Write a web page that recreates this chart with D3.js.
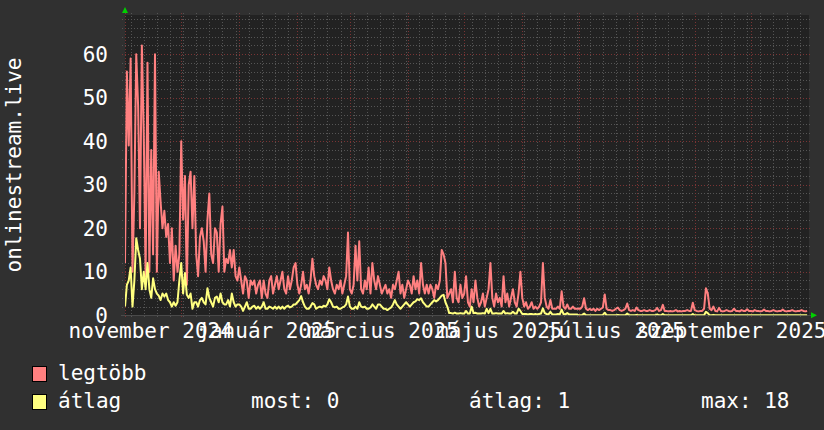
<!DOCTYPE html>
<html><head><meta charset="utf-8">
<script src="https://cdn.jsdelivr.net/npm/d3@7"></script>
<style>
html,body{margin:0;padding:0;background:#303030;}
svg{display:block;}
text{font-family:"DejaVu Sans Mono",monospace;fill:#ffffff;}
</style>
</head><body>
<svg id="chart" width="824" height="430"></svg>
<script>
// ---- data ----
const startDate = "2024-11-01";
const endDate = "2025-11-01";
const yTitle = "onlinestream.live";
// daily maximum ("legtöbb")
const legtobb = [
  // nov
  12,56,39,59,10,28,60,48,20,62,42,9,58,10,38,14,60,10,33,26,20,24,18,21,12,20,8,16,10,14,
  // dec
  40,22,32,7,30,33,20,32,14,9,18,20,17,10,22,28,14,12,20,19,10,21,25,10,13,12,15,11,15,9,8,
  // jan
  11,8,5,9,8,4,8,7,8,5,7,8,4,8,5,4,8,9,5,7,9,6,8,10,6,5,9,6,8,11,12,
  // feb
  7,5,7,10,6,7,5,8,13,9,7,6,8,7,9,8,6,11,8,6,5,7,6,8,5,7,9,19,
  // mar
  6,5,7,16,8,17,6,5,8,6,11,5,12,8,6,9,7,5,6,7,5,6,4,7,6,8,10,5,7,4,6,
  // apr
  8,7,5,9,6,8,5,12,7,5,7,5,7,6,4,7,6,8,15,14,12,4,5,6,3,10,4,3,7,4,
  // may
  5,9,3,2,6,3,8,4,2,3,5,2,4,6,12,4,2,5,3,4,2,9,3,5,2,4,6,3,2,5,10,
  // jun
  4,2,3,1.5,2,3,1.5,2,1.5,2,3,12,4,2,1.5,3.5,1.5,1.5,1.5,2,1.5,5.5,2,1.5,2.5,1.5,1.5,2,1.5,1.5,
  // jul
  1.5,1.5,2,3.9,1.5,1.2,1.5,1.2,1.5,1,1.5,1.2,1.5,1.8,4.8,1.5,1.2,1.2,1,1.2,1.5,1.8,1.2,1,1.2,1.5,2.7,1.2,1,1.2,1,
  // aug
  1.8,1.2,1,1,1.2,1,1,1.2,1,1,1.2,1.7,1,1.2,2.4,1,1,0.9,1,0.9,1,1.2,0.9,1,0.9,1,1,1.2,1,1,2.9,
  // sep
  1.2,1,0.9,1,1,1.5,6.2,5,1.5,1.2,2,1,0.9,1.7,1,0.9,1,1.2,1,0.9,1,1.5,1,1,0.9,1.2,1,1,1.4,1,
  // oct
  1,0.9,1.2,1,1,0.9,1,1.3,1,1,0.9,1,1.2,1,0.9,1,1,1.3,1,0.9,1,1,1.2,1,0.9,1,1,1.2,1,0.9,1
];
// daily average ("átlag")
const atlag = [
  // nov
  2,7,8,11,2,8,17.7,15,13,6,10,6,12,6,4,8.5,6,5,4.5,3.5,5,4.3,5,3.5,3,2,3,2.2,3,8,
  // dec
  12,5,9.7,4.7,4,5,1.5,3,3,2,3.5,4,3,2.5,6.2,4,3,2,4,4.3,3,5,3,2.5,2.5,3.5,2,5,3,2,2.5,
  // jan
  2.5,2,1,2,3,1.5,1.5,2,2.2,1.5,2,1.5,2,3,1.5,1.5,2,1.8,1.5,2,1.5,2,1.5,2,1.5,2,2.2,1.8,2,2.5,2.5,
  // feb
  3,3.5,4.4,3,2,1.5,1.5,2,2.8,2.5,1.5,1.8,2,1.8,2.2,2,2.5,3.7,3,2,1.8,2,1.5,1.5,1.8,2,2.5,4.3,
  // mar
  2,1.5,1.5,2,1.5,3,2,1.8,2,1.5,1.5,1.8,2.5,2,1.5,2.5,2.5,2,1.5,1.5,1.2,1.5,1.8,2.5,3.5,2.5,2,1.5,2,2.5,3,
  // apr
  2.5,2,2.5,3,3.2,3.7,3.5,3.9,3,2.5,2,2,2.5,3,3.5,3.2,3.5,4,4.5,4.7,3,2,0.5,0.5,0.4,0.6,0.4,0.4,0.5,0.4,
  // may
  0.4,1,0.4,0.4,2,0.5,0.6,0.4,0.4,0.4,0.5,0.4,1.5,0.5,1.5,0.4,0.4,0.5,0.4,0.4,0.4,1,0.4,0.5,0.4,0.4,0.8,0.4,0.4,1.5,1,
  // jun
  0.3,0.3,0.3,0.2,0.3,0.3,0.2,0.3,0.2,0.3,0.4,1.6,0.5,0.3,0.2,0.8,0.2,0.2,0.2,0.3,0.2,1.3,0.3,0.2,0.5,0.2,0.2,0.2,0.2,0.2,
  // jul
  0,0,0.1,0.4,0,0,0,0,0,0,0,0,0,0.1,0.6,0,0,0,0,0,0,0.1,0,0,0,0,0.4,0,0,0,0,
  // aug
  0.1,0,0,0,0,0,0,0,0,0,0,0.2,0,0,0.3,0,0,0,0,0,0,0,0,0,0,0,0,0,0,0,0.3,
  // sep
  0,0,0,0,0,0,0.8,0.5,0,0,0.1,0,0,0,0,0,0,0,0,0,0,0,0,0,0,0,0,0,0,0,
  // oct
  0,0,0,0,0,0,0,0,0,0,0,0,0,0,0,0,0,0,0,0,0,0,0,0,0,0,0,0,0,0,0
];
const yTicks = [0,10,20,30,40,50,60];
const xLabels = ["november 2024","január 2025","március 2025","május 2025","július 2025","szeptember 2025"];
const xLabelDates = ["2024-11-14T17:00Z","2025-01-15T17:00Z","2025-03-18T17:00Z","2025-05-19T17:00Z","2025-07-20T17:00Z","2025-09-20T17:00Z"];
const seriesNames = ["legtöbb","átlag"];
const seriesColors = ["#ff8080","#ffff80"];
const statLabels = ["most: 0","átlag: 1","max: 18"];

// ---- drawing ----
const svg = d3.select("#chart");
const t0 = new Date(startDate + "T00:00:00Z"), t1 = new Date(endDate + "T00:00:00Z");
const x = d3.scaleUtc().domain([t0, t1]).range([125, 809]);
const y = d3.scaleLinear().domain([0, 69]).range([315.3, 15]);
const px = v => Math.round(v) + 0.5;

svg.append("rect").attr("width", 824).attr("height", 430).attr("fill", "#303030");
svg.append("rect").attr("x", 125).attr("y", 15).attr("width", 684).attr("height", 300).attr("fill", "#222222");

const grid = svg.append("g");
// minor horizontal
d3.range(2, 69, 2).filter(v => v % 10 !== 0).forEach(v => {
  grid.append("line").attr("x1", 122).attr("x2", 811).attr("y1", px(y(v))).attr("y2", px(y(v)))
    .attr("stroke", "#555555").attr("stroke-dasharray", "1,2");
});
// minor vertical (weekly)
d3.utcMonday.range(t0, t1).forEach(d => {
  grid.append("line").attr("x1", px(x(d))).attr("x2", px(x(d))).attr("y1", 13).attr("y2", 317)
    .attr("stroke", "#555555").attr("stroke-dasharray", "1,2");
});
// major horizontal
yTicks.filter(v => v > 0).forEach(v => {
  grid.append("line").attr("x1", 122).attr("x2", 811).attr("y1", px(y(v))).attr("y2", px(y(v)))
    .attr("stroke", "#7a3434").attr("stroke-dasharray", "1,2");
});
// major vertical (monthly)
d3.utcMonth.range(t0, t1).forEach(d => {
  grid.append("line").attr("x1", px(x(d))).attr("x2", px(x(d))).attr("y1", 13).attr("y2", 317)
    .attr("stroke", "#7a3434").attr("stroke-dasharray", "1,2");
});

// x axis line
svg.append("line").attr("x1", 121).attr("x2", 811).attr("y1", 315.5).attr("y2", 315.5).attr("stroke", "#4a4a4a");

// series
svg.append("clipPath").attr("id", "clip").append("rect").attr("x", 125).attr("y", 14).attr("width", 684).attr("height", 301.3);
const days = legtobb.map((_, i) => d3.utcDay.offset(t0, i));
const line = d3.line().x((d, i) => x(days[i])).y(d => y(d));
const plot = svg.append("g").attr("clip-path", "url(#clip)");
[legtobb, atlag].forEach((s, k) => {
  plot.append("path").attr("d", line(s)).attr("fill", "none")
    .attr("stroke", seriesColors[k]).attr("stroke-width", 2).attr("stroke-linejoin", "round");
});

// arrows
svg.append("path").attr("d", `M${x(t0)-3},13 L${x(t0)+3},13 L${x(t0)},7 Z`).attr("fill", "#00d000");
svg.append("path").attr("d", `M811,${y(0)-3} L811,${y(0)+3} L817,${y(0)} Z`).attr("fill", "#00d000");

// y labels
svg.append("g").selectAll("text").data(yTicks).join("text")
  .attr("x", 108).attr("y", d => y(d) + 7.5).attr("text-anchor", "end")
  .attr("font-size", 21).text(d => d);
// x labels
svg.append("g").selectAll("text").data(xLabels).join("text")
  .attr("x", (d, i) => x(new Date(xLabelDates[i]))).attr("y", 338).attr("text-anchor", "middle")
  .attr("font-size", 21).text(d => d);
// y title
svg.append("text").attr("transform", "translate(20.5,165) rotate(-90)").attr("text-anchor", "middle")
  .attr("font-size", 21).text(yTitle);

// legend
const lg = svg.append("g");
seriesNames.forEach((n, i) => {
  lg.append("rect").attr("x", 32.5).attr("y", 366.5 + i * 28).attr("width", 14).attr("height", 15)
    .attr("fill", seriesColors[i]).attr("stroke", "#000").attr("stroke-width", 1);
  lg.append("text").attr("x", 58).attr("y", 380 + i * 28).attr("font-size", 21).text(n);
});
const statX = [251, 469, 701];
statLabels.forEach((s, i) => {
  lg.append("text").attr("x", statX[i]).attr("y", 408).attr("font-size", 21).text(s);
});
</script>
</body></html>
